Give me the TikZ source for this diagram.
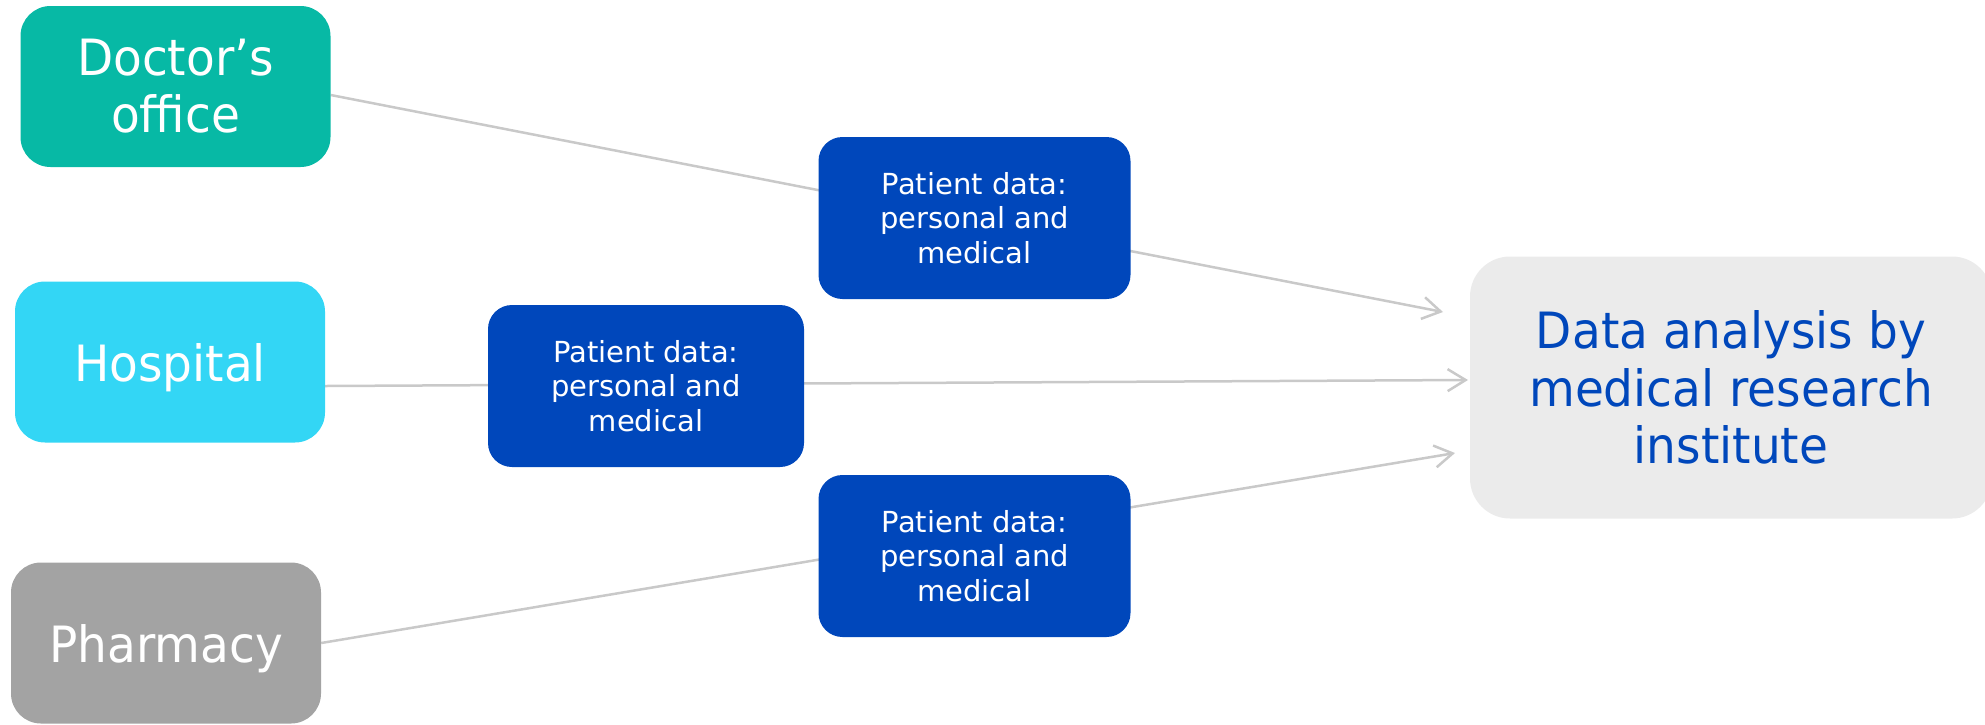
\documentclass[tikz,border=0pt]{standalone}
\usepackage{fontspec}
\setmainfont{DejaVu Sans}
\newfontfamily\bigfont[FakeStretch=0.94]{DejaVu Sans}
\usetikzlibrary{arrows.meta,backgrounds}
\definecolor{teal1}{HTML}{07B9A5}
\definecolor{cyan1}{HTML}{33D6F5}
\definecolor{gray1}{HTML}{A3A3A3}
\definecolor{blue1}{HTML}{0047BB}
\definecolor{light1}{HTML}{EBEBEB}
\definecolor{line1}{HTML}{C9C9C9}
\begin{document}
\begin{tikzpicture}[x=1pt,y=-1pt,
  srcbox/.style={rounded corners=30pt, minimum width=310pt, minimum height=161pt, inner sep=0pt,
    align=center, text=white, font=\bigfont\fontsize{50}{57}\selectfont},
  onerow/.style={text depth=0pt},
  databox/.style={rounded corners=24pt, fill=blue1, minimum width=312pt, minimum height=162pt, inner sep=0pt,
    align=center, text=white, font=\fontsize{29}{34.7}\selectfont},
  flow/.style={draw=line1, line width=2.5pt, -{Straight Barb[length=18pt,width=22pt,line width=2.5pt]}}]
\useasboundingbox (0,0) rectangle (1985,724);
\node[srcbox, fill=teal1] (doc) at (175.5,86.5) {Doctor’s\\office};
\node[srcbox, onerow, fill=cyan1] (hos) at (170,362) {Hospital};
\node[srcbox, onerow, fill=gray1] (pha) at (166,643) {Pharmacy};
\node[databox] (d1) at (974.5,218) {Patient data:\\personal and\\medical};
\node[databox, minimum width=316pt] (d2) at (646,386) {Patient data:\\personal and\\medical};
\node[databox] (d3) at (974.5,556) {Patient data:\\personal and\\medical};
\begin{scope}
\clip (0,0) rectangle (1985,724);
\node[rounded corners=40pt, fill=light1, minimum width=522pt, minimum height=262pt, inner sep=0pt,
  align=center, text=blue1, font=\bigfont\fontsize{50}{57.5}\selectfont] (ana) at (1731,387.5)
  {Data analysis by\\medical research\\institute};
\end{scope}
\coordinate (t1) at (1443,312);
\coordinate (t2) at (1468,380);
\coordinate (t3) at (1455,453);
\begin{scope}[on background layer]
\draw[flow] ([yshift=-8.5pt]doc.east) -- (t1);
\draw[flow] ([yshift=-24pt]hos.east) -- (t2);
\draw[flow] (pha.east) -- (t3);
\end{scope}
\end{tikzpicture}
\end{document}
